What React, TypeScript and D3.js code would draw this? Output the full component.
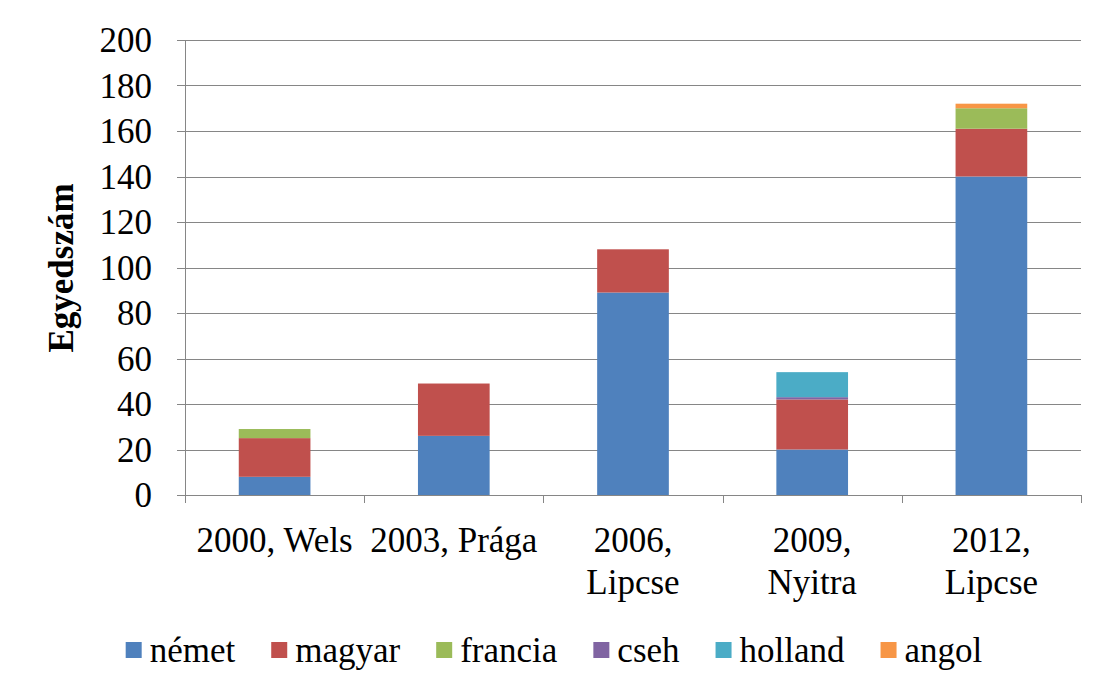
import React, { useEffect, useState } from "react";
import * as d3 from "d3";

const categories = ["2000, Wels", "2003, Prága", "2006, Lipcse", "2009, Nyitra", "2012, Lipcse"];
const categoryLines = [["2000, Wels"], ["2003, Prága"], ["2006,", "Lipcse"], ["2009,", "Nyitra"], ["2012,", "Lipcse"]];
const seriesNames = ["német", "magyar", "francia", "cseh", "holland", "angol"];
const nemet = [8, 26, 89, 20, 140];
const magyar = [17, 23, 19, 22, 21];
const francia = [4, 0, 0, 0, 9];
const cseh = [0, 0, 0, 1, 0];
const holland = [0, 0, 0, 11, 0];
const angol = [0, 0, 0, 0, 2];
const yTicks = [0, 20, 40, 60, 80, 100, 120, 140, 160, 180, 200];
const colors = ["#4F81BD", "#C0504D", "#9BBB59", "#8064A2", "#4BACC6", "#F79646"];

const FONT = '"Times New Roman", "Liberation Serif", Tinos, FreeSerif';

const CW: Record<string, number> = {
  n: 500, "é": 444, m: 778, e: 444, t: 278, a: 444, g: 500, y: 500, r: 333, f: 333,
  c: 444, i: 278, s: 389, h: 500, o: 500, l: 278, d: 500,
};
function measure(text: string, size: number): number {
  let w = 0;
  for (const ch of text) w += CW[ch] ?? 500;
  return (w / 1000) * size;
}

export default function App() {
  const [tick, setTick] = useState(0);
  useEffect(() => {
    const fs: any = (document as any).fonts;
    if (fs && fs.load) {
      Promise.all([
        fs.load('35px "Times New Roman"'),
        fs.load('35px "Liberation Serif"'),
        fs.load('bold 35px "Liberation Serif"'),
      ])
        .then(() => setTick((t) => t + 1))
        .catch(() => {});
    }
  }, []);

  const W = 1109, H = 692;
  const left = 185, right = 1081, top = 40, bottom = 495;
  const x = d3.scaleBand<string>().domain(categories).range([left, right]).paddingInner(0.6).paddingOuter(0.3);
  const y = d3.scaleLinear().domain([0, 200]).range([bottom, top]);
  const seriesData = [nemet, magyar, francia, cseh, holland, angol];
  const table = categories.map((c, i) => {
    const row: any = { cat: c };
    seriesNames.forEach((s, j) => (row[s] = seriesData[j][i]));
    return row;
  });
  const stacked = d3.stack<any>().keys(seriesNames)(table);
  const step = (right - left) / categories.length;

  const legFont = 35;
  const sq = 16, sqGap = 8, itemGap = 36;
  const widths = seriesNames.map((s) => measure(s, legFont));
  const total = widths.reduce((a, b) => a + b, 0) + seriesNames.length * (sq + sqGap) + (seriesNames.length - 1) * itemGap;
  let cx = 554 - total / 2;
  const legendItems = seriesNames.map((s, i) => {
    const item = { name: s, x: cx, color: colors[i] };
    cx += sq + sqGap + widths[i] + itemGap;
    return item;
  });

  return (
    <svg key={tick} width={W} height={H} fontFamily={FONT} style={{ display: "block", margin: "-8px" }}>
      <style>{`text { font-family: ${FONT}; }`}</style>
      <rect x={7.5} y={6.5} width={1094} height={700} fill="#fff" stroke="#878787" strokeWidth={1} />
      {yTicks.map((t) => (
        <g key={t}>
          {t > 0 && <line x1={left} x2={right} y1={Math.round(y(t)) + 0.5} y2={Math.round(y(t)) + 0.5} stroke="#868686" strokeWidth={1} />}
          <line x1={left - 8} x2={left} y1={Math.round(y(t)) + 0.5} y2={Math.round(y(t)) + 0.5} stroke="#868686" strokeWidth={1} />
          <text x={152} y={y(t) + 12} textAnchor="end" fontSize={35} fill="#000">{t}</text>
        </g>
      ))}
      <line x1={left + 0.5} x2={left + 0.5} y1={top} y2={bottom} stroke="#868686" strokeWidth={1} />
      {stacked.map((layer, j) => (
        <g key={layer.key} fill={colors[j]}>
          {layer.map((d, i) =>
            d[1] - d[0] > 0 ? (
              <rect key={i} x={x(categories[i])} y={y(d[1])} width={x.bandwidth()} height={y(d[0]) - y(d[1])} />
            ) : null
          )}
        </g>
      ))}
      <line x1={left} x2={right} y1={bottom + 0.5} y2={bottom + 0.5} stroke="#868686" strokeWidth={1} />
      {d3.range(categories.length + 1).map((i) => (
        <line key={i} x1={Math.round(left + i * step) + 0.5} x2={Math.round(left + i * step) + 0.5} y1={bottom} y2={bottom + 8} stroke="#868686" strokeWidth={1} />
      ))}
      {categories.map((c, i) => (
        <g key={c}>
          {categoryLines[i].map((l, k) => (
            <text key={k} x={(x(c) as number) + x.bandwidth() / 2} y={552 + k * 42} textAnchor="middle" fontSize={35} fill="#000">{l}</text>
          ))}
        </g>
      ))}
      <text transform="translate(73,268) rotate(-90)" textAnchor="middle" fontSize={35} fontWeight="bold" fill="#000">Egyedszám</text>
      {legendItems.map((it) => (
        <g key={it.name}>
          <rect x={it.x} y={642} width={sq} height={sq} fill={it.color} />
          <text x={it.x + sq + sqGap} y={662} fontSize={legFont} fill="#000">{it.name}</text>
        </g>
      ))}
    </svg>
  );
}
